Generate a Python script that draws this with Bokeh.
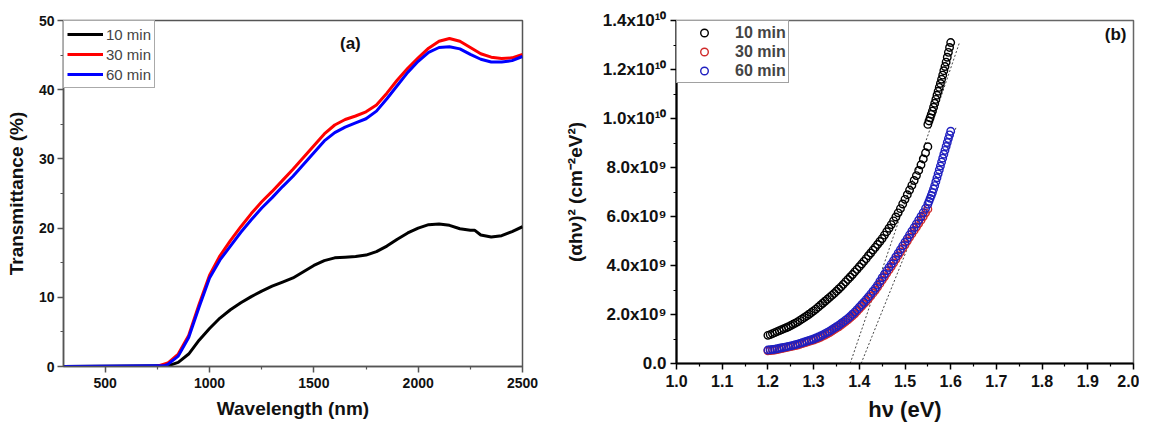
import numpy as np
from bokeh.plotting import figure
from bokeh.layouts import row
from bokeh.models import Range1d, FixedTicker, PrintfTickFormatter, Label
from bokeh.embed import file_html
from bokeh.resources import INLINE

FONT = "Liberation Sans"

# ---------------- Panel (a): transmittance ----------------
wl_10 = [300, 800, 850, 900, 950, 1000, 1050, 1100, 1150, 1200, 1250, 1300, 1350, 1400, 1450, 1500,
         1550, 1600, 1650, 1700, 1750, 1800, 1850, 1900, 1950, 2000, 2050, 2100, 2150, 2200, 2250,
         2270, 2300, 2350, 2400, 2450, 2500]
T_10 = [0, 0.1, 0.6, 1.8, 3.8, 5.5, 7.0, 8.2, 9.2, 10.1, 10.9, 11.6, 12.2, 12.8, 13.7, 14.6,
        15.3, 15.7, 15.8, 15.9, 16.1, 16.6, 17.4, 18.4, 19.3, 20.0, 20.5, 20.6, 20.4, 19.9, 19.7,
        19.7, 19.0, 18.7, 18.9, 19.5, 20.2]

wl_30 = [300, 750, 800, 850, 900, 950, 1000, 1050, 1100, 1150, 1200, 1250, 1300, 1350, 1400, 1450,
         1500, 1550, 1600, 1650, 1700, 1750, 1800, 1850, 1900, 1950, 2000, 2050, 2100, 2150, 2200,
         2250, 2300, 2350, 2400, 2450, 2500]
T_30 = [0, 0.05, 0.5, 1.8, 4.5, 9.0, 13.2, 16.0, 18.2, 20.2, 22.1, 23.8, 25.3, 26.9, 28.5, 30.2,
        31.9, 33.6, 34.9, 35.7, 36.2, 36.8, 37.8, 39.5, 41.4, 43.1, 44.6, 46.0, 47.0, 47.4, 47.0,
        46.1, 45.2, 44.7, 44.5, 44.6, 45.1]

wl_60 = [300, 780, 800, 850, 900, 950, 1000, 1050, 1100, 1150, 1200, 1250, 1300, 1350, 1400, 1450,
         1500, 1550, 1600, 1650, 1700, 1750, 1800, 1850, 1900, 1950, 2000, 2050, 2100, 2150, 2200,
         2250, 2300, 2350, 2400, 2450, 2500]
T_60 = [0, 0.1, 0.3, 1.5, 4.2, 8.6, 12.8, 15.4, 17.4, 19.4, 21.2, 22.9, 24.4, 26.0, 27.5, 29.2,
        30.9, 32.6, 33.8, 34.6, 35.2, 35.8, 36.9, 38.7, 40.6, 42.5, 44.1, 45.4, 46.1, 46.2, 45.9,
        45.1, 44.4, 44.0, 44.0, 44.2, 44.8]

x1_ticks = [500, 1000, 1500, 2000, 2500]
x1_minor = [750, 1250, 1750, 2250]
y1_ticks = [0, 10, 20, 30, 40, 50]
y1_minor = [5, 15, 25, 35, 45]

# ---------------- Panel (b): Tauc plot (values in 1e9 cm^-2 eV^2) ----------------
tauc_10_low = [1.15, 1.18, 1.22, 1.26, 1.30, 1.34, 1.38, 1.42, 1.46, 1.50,
               1.55, 1.60, 1.65, 1.70, 1.76, 1.82, 1.88, 1.94, 2.01, 2.08,
               2.15, 2.22, 2.30, 2.38, 2.46, 2.54, 2.62, 2.70, 2.78, 2.86,
               2.95, 3.04, 3.13, 3.23, 3.33, 3.43, 3.53, 3.63, 3.74, 3.84,
               3.95, 4.06, 4.17, 4.28, 4.40, 4.51, 4.63, 4.74, 4.86, 4.98,
               5.10, 5.24, 5.38, 5.52, 5.67, 5.82, 5.98, 6.15, 6.32, 6.51,
               6.70, 6.89, 7.08, 7.27, 7.47, 7.67, 7.88, 8.11, 8.35, 8.60,
               8.85]
tauc_10_high = [9.76, 9.90, 10.03, 10.17, 10.30, 10.46, 10.62, 10.78, 10.95, 11.11, 11.27,
                11.43, 11.60, 11.77, 11.95, 12.12, 12.30, 12.50, 12.70, 12.90, 13.10]
tauc_30_low = [0.52, 0.53, 0.54, 0.55, 0.57, 0.59, 0.61, 0.63, 0.65, 0.67,
               0.69, 0.71, 0.73, 0.75, 0.78, 0.81, 0.84, 0.87, 0.90, 0.93,
               0.96, 1.00, 1.03, 1.07, 1.12, 1.16, 1.21, 1.26, 1.32, 1.38,
               1.44, 1.50, 1.57, 1.64, 1.71, 1.78, 1.86, 1.94, 2.03, 2.13,
               2.23, 2.33, 2.43, 2.53, 2.64, 2.75, 2.87, 2.99, 3.12, 3.26,
               3.40, 3.54, 3.68, 3.82, 3.96, 4.10, 4.25, 4.40, 4.55, 4.70,
               4.85, 5.00, 5.15, 5.29, 5.43, 5.57, 5.71, 5.85, 6.00, 6.15,
               6.30]
tauc_60_low = [0.55, 0.56, 0.57, 0.58, 0.60, 0.62, 0.64, 0.66, 0.68, 0.70,
               0.72, 0.74, 0.77, 0.79, 0.82, 0.85, 0.88, 0.91, 0.94, 0.97,
               1.00, 1.04, 1.08, 1.12, 1.17, 1.22, 1.27, 1.32, 1.38, 1.44,
               1.50, 1.56, 1.63, 1.70, 1.77, 1.84, 1.92, 2.01, 2.10, 2.20,
               2.30, 2.40, 2.50, 2.61, 2.72, 2.83, 2.95, 3.07, 3.20, 3.35,
               3.50, 3.64, 3.78, 3.92, 4.06, 4.20, 4.35, 4.50, 4.65, 4.80,
               4.95, 5.10, 5.25, 5.40, 5.55, 5.70, 5.85, 6.00, 6.16, 6.33,
               6.50]
tauc_60_high = [6.62, 6.74, 6.86, 6.98, 7.12, 7.26, 7.42, 7.58, 7.74, 7.90,
                8.06, 8.22, 8.38, 8.54, 8.70, 8.86, 9.02, 9.18, 9.33, 9.48]

hv_low_start, hv_low_end = 1.20, 1.55
hv_high_end = 1.60

fit_10_x = [1.380, 1.619]
fit_10_y = [0.0, 13.09]
fit_60_x = [1.404, 1.613]
fit_60_y = [0.0, 9.69]

x2_ticks = [1.0, 1.1, 1.2, 1.3, 1.4, 1.5, 1.6, 1.7, 1.8, 1.9, 2.0]
x2_minor = [1.05, 1.15, 1.25, 1.35, 1.45, 1.55, 1.65, 1.75, 1.85, 1.95]
y2_ticks = [0, 2e9, 4e9, 6e9, 8e9, 1e10, 1.2e10, 1.4e10]
y2_minor = [1e9, 3e9, 5e9, 7e9, 9e9, 1.1e10, 1.3e10]
y2_labels = ["0.0", "2.0x10⁹", "4.0x10⁹", "6.0x10⁹", "8.0x10⁹",
             "1.0x10¹⁰", "1.2x10¹⁰", "1.4x10¹⁰"]

series_names = ["10 min", "30 min", "60 min"]


def style_axis(ax, line_color, line_width, label_size):
    ax.axis_line_color = line_color
    ax.axis_line_width = line_width
    ax.major_tick_line_color = line_color
    ax.minor_tick_line_color = line_color
    ax.major_tick_line_width = 1.5
    ax.minor_tick_line_width = 1.2
    ax.major_tick_out = 6
    ax.major_tick_in = 0
    ax.minor_tick_out = 3
    ax.minor_tick_in = 0
    ax.major_label_text_font = FONT
    ax.major_label_text_font_size = label_size
    ax.major_label_text_font_style = "bold"
    ax.major_label_text_color = "#111111"
    ax.axis_label_text_font = FONT
    ax.axis_label_text_font_style = "bold"
    ax.axis_label_text_color = "#111111"


# ---------- figure (a) ----------
p1 = figure(frame_width=459, frame_height=346, x_range=Range1d(300, 2500), y_range=Range1d(0, 50),
            output_backend="svg", toolbar_location=None,
            min_border_left=63, min_border_right=25, min_border_top=18, min_border_bottom=48)
p1.grid.visible = False
p1.outline_line_color = "#555555"
p1.outline_line_width = 1.5
p1.background_fill_color = "white"
p1.border_fill_color = "white"

for ax in (p1.xaxis[0], p1.yaxis[0]):
    style_axis(ax, "#555555", 1.5, "14px")
p1.xaxis.ticker = FixedTicker(ticks=x1_ticks, minor_ticks=x1_minor)
p1.yaxis.ticker = FixedTicker(ticks=y1_ticks, minor_ticks=y1_minor)
p1.xaxis.major_label_standoff = 5
p1.yaxis.major_label_standoff = 3
p1.xaxis.axis_label = "Wavelength (nm)"
p1.yaxis.axis_label = "Transmittance (%)"
p1.xaxis.axis_label_text_font_size = "19px"
p1.yaxis.axis_label_text_font_size = "19px"
p1.xaxis.axis_label_standoff = 7
p1.yaxis.axis_label_standoff = 9

p1.line(wl_10, T_10, line_color="black", line_width=3, legend_label=series_names[0])
p1.line(wl_30, T_30, line_color="#ff0000", line_width=3, legend_label=series_names[1])
p1.line(wl_60, T_60, line_color="#0000ff", line_width=3, legend_label=series_names[2])

p1.add_layout(Label(x=1675, y=46.7, text="(a)", text_align="center", text_baseline="middle",
                    text_font=FONT, text_font_size="17px", text_font_style="bold",
                    text_color="#111111"))

lg = p1.legend[0]
lg.location = "top_left"
lg.margin = 0
lg.padding = 3
lg.spacing = 0
lg.glyph_width = 36
lg.glyph_height = 20
lg.label_height = 20
lg.label_standoff = 3
lg.label_text_font = FONT
lg.label_text_font_size = "15px"
lg.border_line_color = "#555555"
lg.border_line_width = 1
lg.background_fill_alpha = 1

# ---------- figure (b) ----------
p2 = figure(frame_width=457, frame_height=343, x_range=Range1d(1.0, 2.0), y_range=Range1d(0, 1.4e10),
            output_backend="svg", toolbar_location=None,
            min_border_left=129, min_border_right=6, min_border_top=20, min_border_bottom=48)
p2.grid.visible = False
p2.outline_line_color = "#666666"
p2.outline_line_width = 1.5
p2.background_fill_color = "white"
p2.border_fill_color = "white"

style_axis(p2.xaxis[0], "#000000", 2.2, "16px")
style_axis(p2.yaxis[0], "#000000", 2.2, "17px")
p2.xaxis.ticker = FixedTicker(ticks=x2_ticks, minor_ticks=x2_minor)
p2.yaxis.ticker = FixedTicker(ticks=y2_ticks, minor_ticks=y2_minor)
p2.xaxis.formatter = PrintfTickFormatter(format="%.1f")
p2.yaxis.major_label_overrides = dict(zip(y2_ticks, y2_labels))
p2.xaxis.major_label_standoff = 5
p2.yaxis.major_label_standoff = 4
p2.xaxis.axis_label = "hν (eV)"
p2.yaxis.axis_label = "(αhν)² (cm⁻²eV²)"
p2.xaxis.axis_label_text_font_size = "22px"
p2.yaxis.axis_label_text_font_size = "19px"
p2.xaxis.axis_label_standoff = 7
p2.yaxis.axis_label_standoff = 14

p2.line(fit_10_x, [v * 1e9 for v in fit_10_y], line_color="#444444", line_width=1, line_dash="2 2")
p2.line(fit_60_x, [v * 1e9 for v in fit_60_y], line_color="#444444", line_width=1, line_dash="2 2")

hv_10 = list(np.linspace(hv_low_start, hv_low_end, len(tauc_10_low))) + \
    list(np.linspace(hv_low_end, hv_high_end, len(tauc_10_high)))
y_10 = [v * 1e9 for v in tauc_10_low + tauc_10_high]
hv_30 = list(np.linspace(hv_low_start, hv_low_end, len(tauc_30_low)))
y_30 = [v * 1e9 for v in tauc_30_low]
step = (hv_high_end - hv_low_end) / len(tauc_60_high)
hv_60 = list(np.linspace(hv_low_start, hv_low_end, len(tauc_60_low))) + \
    list(np.linspace(hv_low_end + step, hv_high_end, len(tauc_60_high)))
y_60 = [v * 1e9 for v in tauc_60_low + tauc_60_high]

p2.scatter(hv_10, y_10, marker="circle", size=7.5, line_color="black", line_width=1.4,
           fill_color=None, legend_label=series_names[0])
p2.scatter(hv_30, y_30, marker="circle", size=7.5, line_color="#d02a2a", line_width=1.4,
           fill_color=None, legend_label=series_names[1])
p2.scatter(hv_60, y_60, marker="circle", size=7.5, line_color="#2020c0", line_width=1.4,
           fill_color=None, legend_label=series_names[2])

p2.add_layout(Label(x=1.961, y=1.343e10, text="(b)", text_align="center", text_baseline="middle",
                    text_font=FONT, text_font_size="17px", text_font_style="bold",
                    text_color="#111111"))

lg2 = p2.legend[0]
lg2.location = "top_left"
lg2.margin = 0
lg2.padding = 2
lg2.spacing = 0
lg2.glyph_width = 50
lg2.glyph_height = 19
lg2.label_height = 19
lg2.label_standoff = 6
lg2.label_text_font = FONT
lg2.label_text_font_size = "16px"
lg2.label_text_font_style = "bold"
lg2.border_line_color = "#444444"
lg2.border_line_width = 1
lg2.background_fill_alpha = 1

layout = row(p1, p2, spacing=0)
open("out.html", "w").write(file_html(layout, INLINE))
